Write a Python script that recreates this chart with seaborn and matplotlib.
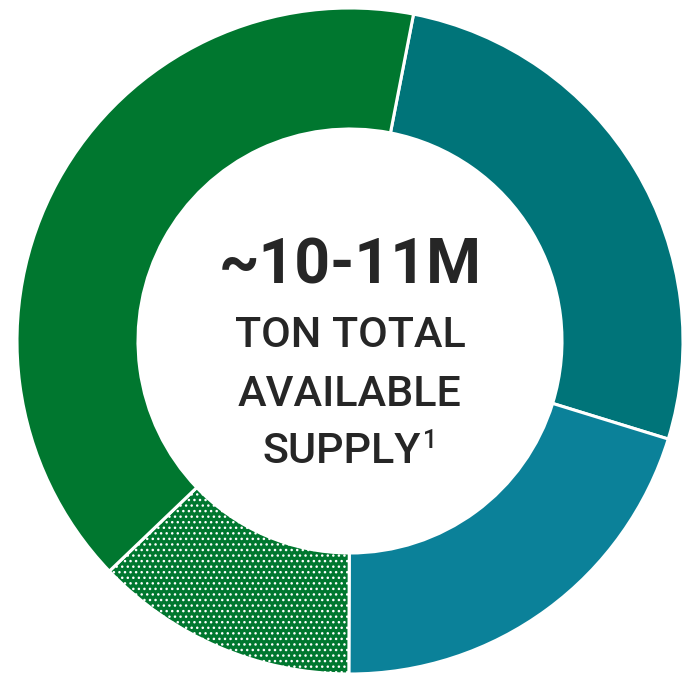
import matplotlib
matplotlib.use("Agg")
import matplotlib.pyplot as plt
import seaborn as sns

# Data (shares of total available supply)
segments = ["Segment A", "Segment B", "Segment C", "Segment D"]
shares = [26.7, 20.3, 12.8, 40.2]
colors = ["#007479", "#0B8199", "#00772F", "#00772F"]
hatches = [None, None, "...", None]

headline = "~10-11M"
sub_lines = ["TON TOTAL", "AVAILABLE", "SUPPLY"]
footnote = "1"

sns.set_theme(style="white")
plt.rcParams["font.family"] = ["Roboto", "DejaVu Sans"]

W, H = 685, 678
cx, cy = 350, 341          # pixel position of donut centre (from top-left)
R_OUT, R_IN = 333, 212

fig = plt.figure(figsize=(W / 100, H / 100), dpi=100)
ax = fig.add_axes([0, 0, 1, 1])

wedges, _ = ax.pie(
    shares,
    colors=colors,
    startangle=90 - 11,
    counterclock=False,
    radius=R_OUT,
    wedgeprops=dict(width=R_OUT - R_IN, edgecolor="white", linewidth=2.2),
)
for w, h in zip(wedges, hatches):
    if h:
        w.set_hatch(h)

ax.set_xlim(-cx, W - cx)
ax.set_ylim(-(H - cy), cy)
ax.set_aspect("equal")
ax.axis("off")

txt = "#262626"
def y_of(py):
    return cy - py

ax.text(0, y_of(284), headline, ha="center", va="baseline",
        fontsize=45, fontweight="bold", color=txt)
ax.text(0, y_of(347), sub_lines[0], ha="center", va="baseline",
        fontsize=31, fontweight="medium", color=txt)
ax.text(0, y_of(406), sub_lines[1], ha="center", va="baseline",
        fontsize=31, fontweight="medium", color=txt)
ax.text(421 - cx, y_of(463), sub_lines[2], ha="right", va="baseline",
        fontsize=31, fontweight="medium", color=txt)
ax.text(423 - cx, y_of(448), footnote, ha="left", va="baseline",
        fontsize=18, fontweight="medium", color=txt)

fig.savefig("out.png", dpi=100)
